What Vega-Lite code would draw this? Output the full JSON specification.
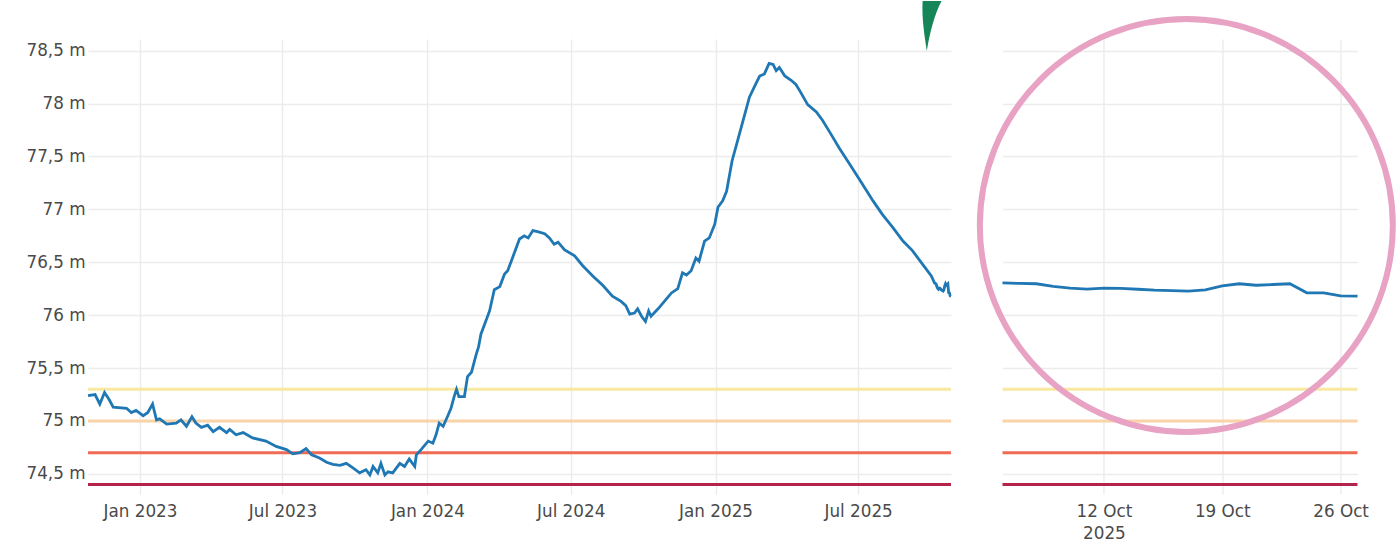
{
  "$schema": "https://vega.github.io/schema/vega-lite/v6.json",
  "background": "white",
  "padding": {"left": 0, "top": 0, "right": 0, "bottom": 0},
  "autosize": {"type": "pad"},
  "bounds": "flush",
  "spacing": 51.5,
  "datasets": {
    "levels": [
      {"date": "2022-10-27", "value": 75.24}, {"date": "2022-11-05", "value": 75.25}, {"date": "2022-11-11", "value": 75.16},
      {"date": "2022-11-17", "value": 75.27}, {"date": "2022-11-23", "value": 75.20}, {"date": "2022-11-28", "value": 75.13},
      {"date": "2022-12-15", "value": 75.12}, {"date": "2022-12-21", "value": 75.08}, {"date": "2022-12-27", "value": 75.10},
      {"date": "2023-01-05", "value": 75.05}, {"date": "2023-01-11", "value": 75.08}, {"date": "2023-01-17", "value": 75.16},
      {"date": "2023-01-22", "value": 75.01}, {"date": "2023-01-26", "value": 75.02}, {"date": "2023-02-04", "value": 74.97},
      {"date": "2023-02-16", "value": 74.98}, {"date": "2023-02-22", "value": 75.01}, {"date": "2023-03-01", "value": 74.95},
      {"date": "2023-03-08", "value": 75.04}, {"date": "2023-03-13", "value": 74.98}, {"date": "2023-03-20", "value": 74.94},
      {"date": "2023-03-28", "value": 74.96}, {"date": "2023-04-04", "value": 74.90}, {"date": "2023-04-12", "value": 74.94},
      {"date": "2023-04-21", "value": 74.89}, {"date": "2023-04-25", "value": 74.92}, {"date": "2023-05-03", "value": 74.87},
      {"date": "2023-05-12", "value": 74.89}, {"date": "2023-05-24", "value": 74.84}, {"date": "2023-06-10", "value": 74.81},
      {"date": "2023-06-23", "value": 74.76}, {"date": "2023-07-06", "value": 74.73}, {"date": "2023-07-14", "value": 74.69},
      {"date": "2023-07-23", "value": 74.70}, {"date": "2023-07-31", "value": 74.74}, {"date": "2023-08-07", "value": 74.68},
      {"date": "2023-08-17", "value": 74.65}, {"date": "2023-08-26", "value": 74.61}, {"date": "2023-09-03", "value": 74.59},
      {"date": "2023-09-12", "value": 74.58}, {"date": "2023-09-20", "value": 74.60}, {"date": "2023-09-28", "value": 74.56},
      {"date": "2023-10-07", "value": 74.51}, {"date": "2023-10-15", "value": 74.54}, {"date": "2023-10-20", "value": 74.49},
      {"date": "2023-10-24", "value": 74.57}, {"date": "2023-10-30", "value": 74.51}, {"date": "2023-11-03", "value": 74.60},
      {"date": "2023-11-08", "value": 74.49}, {"date": "2023-11-12", "value": 74.52}, {"date": "2023-11-18", "value": 74.51},
      {"date": "2023-11-27", "value": 74.60}, {"date": "2023-12-03", "value": 74.57}, {"date": "2023-12-09", "value": 74.64},
      {"date": "2023-12-16", "value": 74.57}, {"date": "2023-12-18", "value": 74.68}, {"date": "2023-12-24", "value": 74.73},
      {"date": "2024-01-02", "value": 74.81}, {"date": "2024-01-08", "value": 74.79}, {"date": "2024-01-12", "value": 74.87},
      {"date": "2024-01-16", "value": 74.98}, {"date": "2024-01-21", "value": 74.95}, {"date": "2024-01-27", "value": 75.05},
      {"date": "2024-01-31", "value": 75.12}, {"date": "2024-02-04", "value": 75.23}, {"date": "2024-02-07", "value": 75.30},
      {"date": "2024-02-10", "value": 75.23}, {"date": "2024-02-17", "value": 75.23}, {"date": "2024-02-21", "value": 75.42},
      {"date": "2024-02-26", "value": 75.46}, {"date": "2024-03-03", "value": 75.63}, {"date": "2024-03-06", "value": 75.70},
      {"date": "2024-03-09", "value": 75.82}, {"date": "2024-03-20", "value": 76.04}, {"date": "2024-03-26", "value": 76.24},
      {"date": "2024-04-02", "value": 76.27}, {"date": "2024-04-08", "value": 76.39}, {"date": "2024-04-12", "value": 76.42},
      {"date": "2024-04-19", "value": 76.56}, {"date": "2024-04-27", "value": 76.72}, {"date": "2024-05-03", "value": 76.75},
      {"date": "2024-05-08", "value": 76.73}, {"date": "2024-05-14", "value": 76.80}, {"date": "2024-05-20", "value": 76.79},
      {"date": "2024-05-29", "value": 76.77}, {"date": "2024-06-04", "value": 76.73}, {"date": "2024-06-10", "value": 76.67},
      {"date": "2024-06-15", "value": 76.69}, {"date": "2024-06-23", "value": 76.62}, {"date": "2024-07-06", "value": 76.56},
      {"date": "2024-07-16", "value": 76.47}, {"date": "2024-07-29", "value": 76.37}, {"date": "2024-08-11", "value": 76.28},
      {"date": "2024-08-23", "value": 76.18}, {"date": "2024-09-03", "value": 76.13}, {"date": "2024-09-09", "value": 76.09},
      {"date": "2024-09-14", "value": 76.01}, {"date": "2024-09-20", "value": 76.02}, {"date": "2024-09-24", "value": 76.06},
      {"date": "2024-09-29", "value": 75.99}, {"date": "2024-10-04", "value": 75.94}, {"date": "2024-10-08", "value": 76.04},
      {"date": "2024-10-11", "value": 75.99}, {"date": "2024-10-20", "value": 76.06}, {"date": "2024-10-28", "value": 76.13},
      {"date": "2024-11-06", "value": 76.21}, {"date": "2024-11-14", "value": 76.25}, {"date": "2024-11-20", "value": 76.40},
      {"date": "2024-11-25", "value": 76.38}, {"date": "2024-12-01", "value": 76.42}, {"date": "2024-12-07", "value": 76.54},
      {"date": "2024-12-11", "value": 76.51}, {"date": "2024-12-18", "value": 76.70}, {"date": "2024-12-24", "value": 76.73},
      {"date": "2024-12-31", "value": 76.86}, {"date": "2025-01-04", "value": 77.02}, {"date": "2025-01-10", "value": 77.08},
      {"date": "2025-01-15", "value": 77.17}, {"date": "2025-01-22", "value": 77.46}, {"date": "2025-01-29", "value": 77.65},
      {"date": "2025-02-05", "value": 77.84}, {"date": "2025-02-13", "value": 78.06}, {"date": "2025-02-22", "value": 78.20},
      {"date": "2025-02-26", "value": 78.26}, {"date": "2025-03-04", "value": 78.28}, {"date": "2025-03-10", "value": 78.38},
      {"date": "2025-03-15", "value": 78.37}, {"date": "2025-03-19", "value": 78.31}, {"date": "2025-03-23", "value": 78.34},
      {"date": "2025-03-30", "value": 78.26}, {"date": "2025-04-07", "value": 78.22}, {"date": "2025-04-13", "value": 78.18},
      {"date": "2025-04-18", "value": 78.12}, {"date": "2025-04-28", "value": 77.99}, {"date": "2025-05-09", "value": 77.92},
      {"date": "2025-05-17", "value": 77.84}, {"date": "2025-05-26", "value": 77.73}, {"date": "2025-06-07", "value": 77.58},
      {"date": "2025-06-20", "value": 77.43}, {"date": "2025-07-03", "value": 77.28}, {"date": "2025-07-09", "value": 77.21},
      {"date": "2025-07-20", "value": 77.08}, {"date": "2025-08-01", "value": 76.95}, {"date": "2025-08-14", "value": 76.83},
      {"date": "2025-08-27", "value": 76.70}, {"date": "2025-09-08", "value": 76.61}, {"date": "2025-09-21", "value": 76.48},
      {"date": "2025-10-02", "value": 76.37},
      {"date": "2025-10-06", "value": 76.306}, {"date": "2025-10-07", "value": 76.300}, {"date": "2025-10-08", "value": 76.297},
      {"date": "2025-10-09", "value": 76.272}, {"date": "2025-10-10", "value": 76.255}, {"date": "2025-10-11", "value": 76.246},
      {"date": "2025-10-12", "value": 76.256}, {"date": "2025-10-13", "value": 76.254}, {"date": "2025-10-14", "value": 76.245},
      {"date": "2025-10-15", "value": 76.236}, {"date": "2025-10-16", "value": 76.232}, {"date": "2025-10-17", "value": 76.228},
      {"date": "2025-10-18", "value": 76.240}, {"date": "2025-10-19", "value": 76.277}, {"date": "2025-10-20", "value": 76.297},
      {"date": "2025-10-21", "value": 76.283}, {"date": "2025-10-22", "value": 76.290}, {"date": "2025-10-23", "value": 76.297},
      {"date": "2025-10-24", "value": 76.212}, {"date": "2025-10-25", "value": 76.210}, {"date": "2025-10-26", "value": 76.182},
      {"date": "2025-10-27", "value": 76.180}
    ],
    "thresholds": [
      {"level": "watch", "value": 75.3},
      {"level": "alert", "value": 75.0},
      {"level": "warning", "value": 74.7},
      {"level": "critical", "value": 74.4}
    ]
  },
  "hconcat": [
    {
      "width": 863,
      "height": 455,
      "layer": [
        {
          "data": {"name": "thresholds"},
          "mark": {"type": "rule", "strokeWidth": 2.8},
          "encoding": {
            "y": {"field": "value", "type": "quantitative"},
            "color": {"field": "level", "type": "nominal", "legend": null,
              "scale": {"domain": ["watch", "alert", "warning", "critical"], "range": ["#f9e8a0", "#fad3a8", "#f06b55", "#b3234a"]}}
          }
        },
        {
          "data": {"name": "levels"},
          "mark": {"type": "line", "color": "#1f77b4", "strokeWidth": 2.8},
          "encoding": {
            "x": {"field": "date", "type": "temporal"},
            "y": {"field": "value", "type": "quantitative"}
          }
        },
        {
          "data": {"values": [{}]},
          "mark": {"type": "point", "filled": true, "fill": "#168659", "opacity": 1, "strokeWidth": 0, "size": 2500,
            "shape": "M-0.38,-1 L0.38,-1 C0.1,-0.5 -0.1,0.3 -0.21,1 C-0.3,0.4 -0.42,-0.3 -0.38,-1 Z"},
          "encoding": {
            "x": {"datum": {"year": 2025, "month": 10, "date": 3}, "type": "temporal"},
            "y": {"datum": 78.733, "type": "quantitative"}
          }
        }
      ],
      "encoding": {
        "x": {"type": "temporal",
          "scale": {"domain": [{"year": 2022, "month": 10, "date": 27}, {"year": 2025, "month": 10, "date": 27}]},
          "axis": {"title": null, "format": "%b %Y", "labelFlush": false,
            "values": [{"year": 2023, "month": 1, "date": 1}, {"year": 2023, "month": 7, "date": 1}, {"year": 2024, "month": 1, "date": 1},
              {"year": 2024, "month": 7, "date": 1}, {"year": 2025, "month": 1, "date": 1}, {"year": 2025, "month": 7, "date": 1}]}},
        "y": {"type": "quantitative",
          "scale": {"domain": [74.31, 78.61], "nice": false, "zero": false},
          "axis": {"title": null, "values": [74.5, 75, 75.5, 76, 76.5, 77, 77.5, 78, 78.5],
            "labelExpr": "replace(format(datum.value, '.1~f'), '.', ',') + ' m'",
            "labelPadding": 3, "minExtent": 88, "maxExtent": 88}}
      }
    },
    {
      "width": 355,
      "height": 455,
      "layer": [
        {
          "data": {"name": "thresholds"},
          "mark": {"type": "rule", "strokeWidth": 2.8},
          "encoding": {
            "y": {"field": "value", "type": "quantitative"},
            "color": {"field": "level", "type": "nominal", "legend": null,
              "scale": {"domain": ["watch", "alert", "warning", "critical"], "range": ["#f9e8a0", "#fad3a8", "#f06b55", "#b3234a"]}}
          }
        },
        {
          "data": {"name": "levels"},
          "transform": [{"filter": "time(datum.date) >= time(datetime(2025, 9, 4))"}],
          "mark": {"type": "line", "color": "#1f77b4", "strokeWidth": 2.8},
          "encoding": {
            "x": {"field": "date", "type": "temporal"},
            "y": {"field": "value", "type": "quantitative"}
          }
        },
        {
          "data": {"values": [{}]},
          "mark": {"type": "point", "shape": "circle", "filled": false, "stroke": "#e8a2c4", "strokeWidth": 6, "opacity": 1, "size": 170569},
          "encoding": {
            "x": {"datum": {"year": 2025, "month": 10, "date": 16, "hours": 21}, "type": "temporal"},
            "y": {"datum": 76.847, "type": "quantitative"}
          }
        }
      ],
      "encoding": {
        "x": {"type": "temporal",
          "scale": {"domain": [{"year": 2025, "month": 10, "date": 6}, {"year": 2025, "month": 10, "date": 27}]},
          "axis": {"title": null, "labelFlush": false, "labelLineHeight": 22,
            "values": [{"year": 2025, "month": 10, "date": 12}, {"year": 2025, "month": 10, "date": 19}, {"year": 2025, "month": 10, "date": 26}],
            "labelExpr": "date(datum.value) == 12 ? [timeFormat(datum.value, '%d %b'), '2025'] : timeFormat(datum.value, '%d %b')"}},
        "y": {"type": "quantitative",
          "scale": {"domain": [74.31, 78.61], "nice": false, "zero": false},
          "axis": {"title": null, "labels": false, "values": [74.5, 75, 75.5, 76, 76.5, 77, 77.5, 78, 78.5]}}
      }
    }
  ],
  "config": {
    "view": {"stroke": null},
    "axis": {
      "domain": false,
      "ticks": false,
      "grid": true,
      "gridColor": "#ececec",
      "gridWidth": 1.4,
      "labelFont": "DejaVu Sans",
      "labelFontSize": 16.8,
      "labelColor": "#4a4a4a",
      "labelPadding": 9
    },
    "axisY": {"labelPadding": 3}
  }
}
